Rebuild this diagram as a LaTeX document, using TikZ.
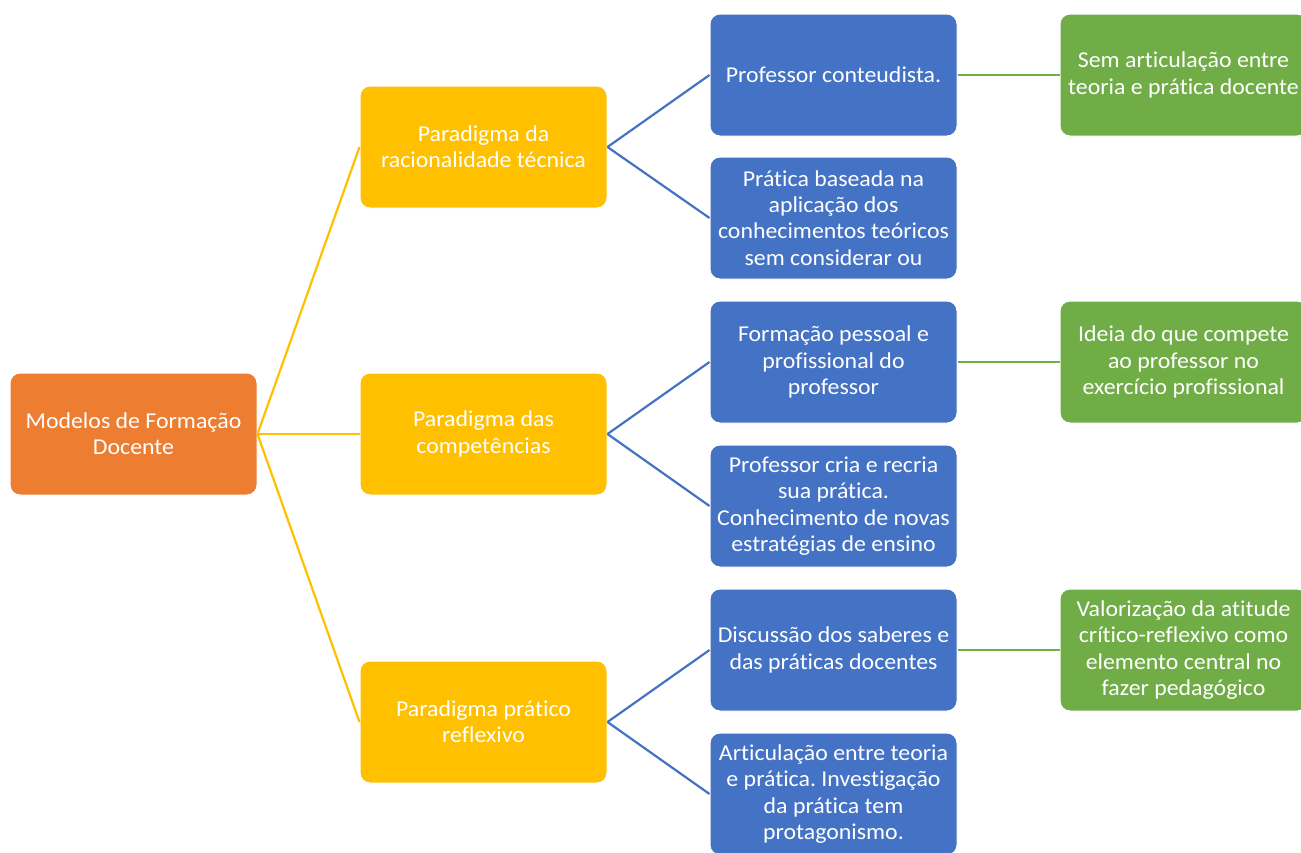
\documentclass[tikz,border=0pt]{standalone}
\usepackage{fontspec}
\setmainfont{Carlito}[FakeStretch=1.05,Ligatures={NoCommon}]
\frenchspacing
\definecolor{corange}{HTML}{ED7D31}
\definecolor{cyellow}{HTML}{FFC000}
\definecolor{cblue}{HTML}{4472C4}
\definecolor{cgreen}{HTML}{70AD47}
\begin{document}
\begin{tikzpicture}[x=1pt,y=-1pt,
  box/.style={draw=white,line width=1pt,rounded corners=10pt,minimum width=247pt,minimum height=122pt,inner sep=0pt,align=center,text=white,font=\fontsize{22.7}{26.3}\selectfont},
  rootbox/.style={box,fill=corange},
  parbox/.style={box,fill=cyellow},
  itembox/.style={box,fill=cblue},
  notebox/.style={box,fill=cgreen},
  ylink/.style={draw=cyellow,line width=2.2pt},
  blink/.style={draw=cblue,line width=2.2pt},
  glink/.style={draw=cgreen,line width=2.8pt}]
\useasboundingbox (0,0) rectangle (1301,852);
\fill[white] (0,0) rectangle (1301,852);
\node[rootbox] (root) at (133.5,434) {Modelos de Formação\\Docente};
\node[parbox] (p1) at (483.5,147) {Paradigma da\\racionalidade técnica};
\node[parbox] (p2) at (483.5,434) {Paradigma das\\competências};
\node[parbox] (p3) at (483.5,722) {Paradigma prático\\reflexivo};
\node[itembox] (b1) at (833.5,75) {Professor conteudista.};
\node[itembox] (b2) at (833.5,218) {Prática baseada na\\aplicação dos\\conhecimentos teóricos\\sem considerar ou};
\node[itembox] (b3) at (833.5,362) {Formação pessoal e\\profissional do\\professor};
\node[itembox] (b4) at (833.5,506) {Professor cria e recria\\sua prática.\\Conhecimento de novas\\estratégias de ensino};
\node[itembox] (b5) at (833.5,650) {Discussão dos saberes e\\das práticas docentes};
\node[itembox] (b6) at (833.5,794) {Articulação entre teoria\\e prática. Investigação\\da prática tem\\protagonismo.};
\node[notebox] (g1) at (1183.5,75) {Sem articulação entre\\teoria e prática docente};
\node[notebox] (g2) at (1183.5,362) {Ideia do que compete\\ao professor no\\exercício profissional};
\node[notebox] (g3) at (1183.5,650) {Valorização da atitude\\crítico-reflexivo como\\elemento central no\\fazer pedagógico};
\draw[ylink] (root.east) -- (p1.west);
\draw[ylink] (root.east) -- (p2.west);
\draw[ylink] (root.east) -- (p3.west);
\draw[blink] (p1.east) -- (b1.west);
\draw[blink] (p1.east) -- (b2.west);
\draw[blink] (p2.east) -- (b3.west);
\draw[blink] (p2.east) -- (b4.west);
\draw[blink] (p3.east) -- (b5.west);
\draw[blink] (p3.east) -- (b6.west);
\draw[glink] (b1.east) -- (g1.west);
\draw[glink] (b3.east) -- (g2.west);
\draw[glink] (b5.east) -- (g3.west);
\end{tikzpicture}
\end{document}
